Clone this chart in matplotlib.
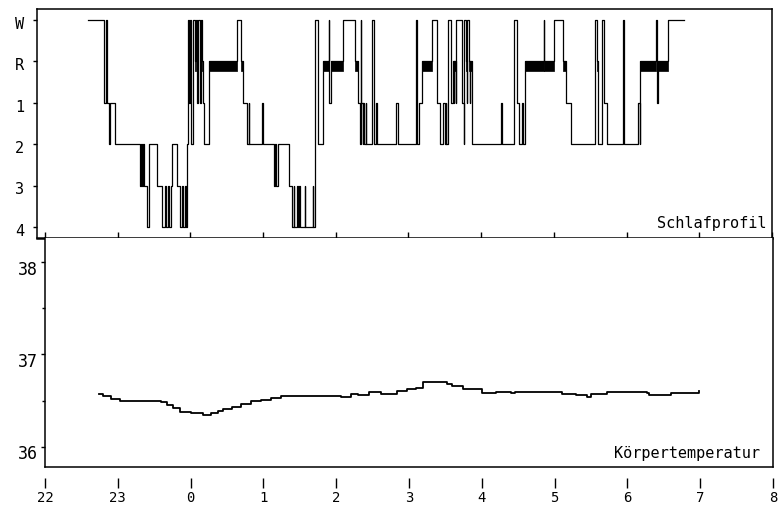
import matplotlib
import numpy as np
from matplotlib import pyplot as plt
from matplotlib import transforms

matplotlib.use('Agg')
plt.rc('font', family='DejaVu Sans Mono')

# hour ticks (clock time, >24 means after midnight)
hours = [22, 23, 24, 25, 26, 27, 28, 29, 30, 31, 32]
hour_labels = ['22', '23', '0', '1', '2', '3', '4', '5', '6', '7', '8']

stage_labels = ['4', '3', '2', '1', 'R', 'W']

# sleep profile: time where each stage starts
hyp_time = [22.59, 22.81, 22.84, 22.85, 22.88, 22.90, 22.96, 23.31, 23.32, 23.34,
            23.35, 23.36, 23.40, 23.43, 23.54, 23.61, 23.65, 23.67, 23.69, 23.71,
            23.74, 23.75, 23.82, 23.86, 23.89, 23.90, 23.93, 23.94, 23.96, 23.97,
            23.98, 24.00, 24.01, 24.03, 24.04, 24.07, 24.08, 24.09, 24.11, 24.13,
            24.15, 24.16, 24.18, 24.19, 24.25, 24.64, 24.69, 24.73, 24.78, 24.80,
            24.81, 24.99, 25.00, 25.15, 25.17, 25.18, 25.21, 25.35, 25.40, 25.42,
            25.43, 25.46, 25.48, 25.50, 25.51, 25.57, 25.58, 25.68, 25.69, 25.72,
            25.75, 25.76, 25.82, 25.83, 25.90, 25.91, 25.93, 26.10, 26.27, 26.30,
            26.33, 26.34, 26.35, 26.37, 26.38, 26.39, 26.41, 26.42, 26.50, 26.52,
            26.55, 26.57, 26.83, 26.85, 27.11, 27.12, 27.15, 27.18, 27.33, 27.39,
            27.44, 27.48, 27.50, 27.51, 27.52, 27.55, 27.58, 27.59, 27.61, 27.62,
            27.63, 27.65, 27.66, 27.74, 27.76, 27.77, 27.79, 27.80, 27.81, 27.83,
            27.84, 27.85, 27.87, 27.88, 28.27, 28.28, 28.45, 28.49, 28.52, 28.56,
            28.58, 28.60, 28.86, 28.87, 29.00, 29.12, 29.16, 29.23, 29.56, 29.59,
            29.60, 29.66, 29.69, 29.73, 29.95, 29.96, 30.15, 30.18, 30.19, 30.40,
            30.42, 30.43, 30.57, 30.79]
hyp_stage = ['W', '1', 'W', '1', '2', '1', '2', '3', '2', '3',
             '2', '3', '4', '2', '3', '4', '3', '4', '3', '4',
             '3', '2', '3', '4', '3', '4', '3', '4', '2', 'W',
             '1', 'W', '2', 'R', 'W', 'R', 'W', '1', 'W', '1',
             'W', 'R', '1', '2', 'R', 'W', 'R', '1', '2', '1',
             '2', '1', '2', '3', '2', '3', '2', '3', '4', '3',
             '4', '3', '4', '3', '4', '3', '4', '3', '4', 'W',
             'R', '2', '1', 'R', 'W', '1', 'R', 'W', 'R', '1',
             '2', 'W', '1', '2', '1', '2', '1', '2', 'W', '2',
             '1', '2', '1', '2', 'W', '2', '1', 'R', 'W', '1',
             '2', '1', '2', '1', '2', 'W', 'R', '1', 'R', '1',
             'R', '1', 'W', '1', '2', 'W', 'R', '1', 'W', 'R',
             '1', 'R', '1', '2', '1', '2', 'W', '1', '2', '1',
             '2', 'R', 'W', 'R', 'W', 'R', '1', '2', 'W', 'R',
             '2', 'W', '1', '2', 'W', '2', '1', '2', 'R', 'W',
             '1', 'R', 'W', 'W']

# body temperature (deg C)
temp_time = [22.74, 22.80, 22.90, 23.03, 23.30, 23.59, 23.68, 23.76, 23.86, 24.00,
             24.10, 24.17, 24.28, 24.37, 24.45, 24.57, 24.69, 24.83, 24.97, 25.10,
             25.24, 25.66, 26.07, 26.21, 26.30, 26.45, 26.62, 26.83, 26.97, 27.10,
             27.19, 27.45, 27.52, 27.59, 27.74, 28.00, 28.20, 28.40, 28.45, 28.76,
             29.10, 29.30, 29.45, 29.50, 29.72, 30.27, 30.30, 30.60, 30.85, 30.98]
temp_val = [36.57, 36.55, 36.52, 36.50, 36.49, 36.48, 36.45, 36.42, 36.38, 36.36,
            36.36, 36.34, 36.37, 36.39, 36.41, 36.43, 36.46, 36.49, 36.51, 36.53,
            36.55, 36.55, 36.54, 36.57, 36.56, 36.59, 36.57, 36.60, 36.62, 36.64,
            36.70, 36.70, 36.68, 36.66, 36.63, 36.58, 36.59, 36.58, 36.59, 36.59,
            36.57, 36.56, 36.54, 36.57, 36.59, 36.58, 36.56, 36.58, 36.58, 36.60]


def shift_labels(labels, fig, dy):
    off = transforms.ScaledTranslation(0, dy / 72.0, fig.dpi_scale_trans)
    for lbl in labels:
        lbl.set_transform(lbl.get_transform() + off)


def main():
    fig = plt.figure(figsize=(7.84, 5.17), dpi=100)
    ax1 = fig.add_axes([37 / 784, 279 / 517, 735 / 784, 229 / 517])
    ax2 = fig.add_axes([45 / 784, 50 / 517, 728 / 784, 229 / 517])

    # --- Schlafprofil ---
    y = np.array([stage_labels.index(s) for s in hyp_stage])
    t = np.array(hyp_time)
    ax1.plot(t, y, drawstyle='steps-post', color='black', lw=0.9)
    r = stage_labels.index('R')
    rem = [(t[i], t[i + 1] - t[i]) for i in range(len(t) - 1) if hyp_stage[i] == 'R']
    ax1.broken_barh(rem, (r - 0.24, 0.24), facecolor='black', edgecolor='black', lw=0.5)

    ax1.set_xlim(22 - 8 / 72.8, 22 + 727 / 72.8)
    ax1.set_ylim(-0.27, 5.27)
    ax1.set_yticks(range(6))
    ax1.set_yticklabels(stage_labels, fontsize=11)
    ax1.set_xticks(hours)
    ax1.tick_params(axis='x', direction='in', length=4, labelbottom=False, width=1)
    ax1.tick_params(axis='y', direction='out', length=3, pad=6, width=1)
    shift_labels(ax1.get_yticklabels(), fig, -2)
    for s in ax1.spines.values():
        s.set_linewidth(1.1)
    ax1.spines['bottom'].set_linewidth(1.8)
    ax1.text(0.992, 0.045, 'Schlafprofil', transform=ax1.transAxes,
             ha='right', va='baseline', fontsize=11)

    # --- Koerpertemperatur ---
    ax2.plot(temp_time, temp_val, drawstyle='steps-post', color='black', lw=1.3)
    ax2.set_xlim(22, 32)
    ax2.set_ylim(35.78, 38.26)
    ax2.set_yticks([36, 37, 38])
    ax2.set_yticklabels(['36', '37', '38'], fontsize=12)
    ax2.set_yticks([36.5, 37.5], minor=True)
    ax2.tick_params(axis='y', which='major', direction='out', length=3, pad=2, width=1)
    ax2.tick_params(axis='y', which='minor', direction='out', length=2, width=1)
    shift_labels(ax2.get_yticklabels(), fig, -4)
    ax2.set_xticks(hours)
    ax2.set_xticklabels(hour_labels, fontsize=13)
    ax2.tick_params(axis='x', direction='out', length=7, pad=2, width=1)
    ax2.spines['top'].set_visible(False)
    ax2.spines['bottom'].set_position(('outward', 8))
    ax2.spines['bottom'].set_visible(False)
    ax2.plot([0, 1], [0, 0], transform=ax2.transAxes, color='black', lw=1.1, clip_on=False)
    for k in ['left', 'right']:
        ax2.spines[k].set_linewidth(1.1)
    ax2.text(0.982, 0.039, 'Körpertemperatur', transform=ax2.transAxes,
             ha='right', va='baseline', fontsize=11)

    plt.savefig('out.png', dpi=100)


if __name__ == '__main__':
    main()
